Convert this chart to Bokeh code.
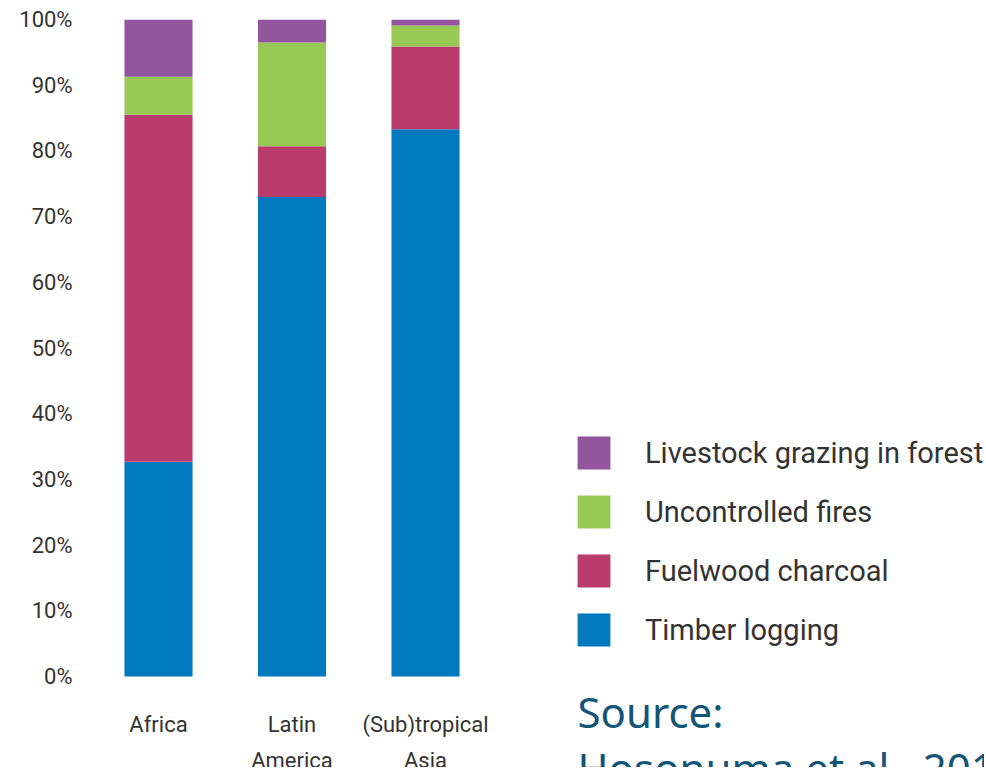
from bokeh.plotting import figure
from bokeh.models import (ColumnDataSource, FixedTicker, Legend, LegendItem, Label,
                          Range1d, PrintfTickFormatter)
from bokeh.core.properties import value
from bokeh.embed import file_html
from bokeh.resources import INLINE

# ---- data (percent share of degradation drivers) ----
regions = ["Africa", "Latin\nAmerica", "(Sub)tropical\nAsia"]
positions = [1, 2, 3]
timber = [32.7, 73.0, 83.3]
fuelwood = [52.8, 7.7, 12.6]
fires = [5.8, 15.8, 3.2]
livestock = [8.7, 3.5, 0.9]
series_keys = ["timber", "fuelwood", "fires", "livestock"]
series_labels = ["Timber logging", "Fuelwood charcoal", "Uncontrolled fires",
                 "Livestock grazing in forest"]
colors = ["#0079BF", "#B93A6B", "#97C954", "#93559E"]
y_ticks = [0, 10, 20, 30, 40, 50, 60, 70, 80, 90, 100]
baseline = [0, 0, 0]

source = ColumnDataSource(dict(x=positions, timber=timber, fuelwood=fuelwood,
                               fires=fires, livestock=livestock))
label_src = ColumnDataSource(dict(x=positions, y=baseline, text=regions))

FONT = "Roboto"
TXT = "#333333"
SRC_COLOR = "#135576"

p = figure(width=984, height=767, output_backend="svg", toolbar_location=None,
           x_range=Range1d(0.4157, 7.187), y_range=Range1d(-13.85, 100),
           min_border_left=80, min_border_top=19, min_border_bottom=0,
           min_border_right=0)
p.outline_line_color = None
p.xgrid.visible = False
p.ygrid.visible = False
p.xaxis.visible = False

renderers = p.vbar_stack(series_keys, x="x", width=0.51, color=colors,
                         line_color=None, source=source)

ax = p.yaxis[0]
ax.axis_line_color = None
ax.major_tick_line_color = None
ax.minor_tick_line_color = None
ax.major_tick_out = 0
ax.major_tick_in = 0
ax.minor_tick_out = 0
ax.major_label_text_font = FONT
ax.major_label_text_font_size = "22px"
ax.major_label_text_color = TXT
ax.ticker = FixedTicker(ticks=y_ticks)
ax.formatter = PrintfTickFormatter(format="%d%%")
ax.major_label_standoff = 8

# category labels under the bars
p.text(x="x", y="y", text="text", source=label_src, y_offset=35,
       text_align="center", text_baseline="top", text_font=value(FONT),
       text_font_size="22px", text_color=TXT, text_line_height=1.45)

items = [LegendItem(label=lab, renderers=[r])
         for lab, r in zip(series_labels, renderers)][::-1]
legend = Legend(items=items, location=(493, 117), orientation="vertical",
                glyph_width=41, glyph_height=41, spacing=18, label_standoff=31,
                label_text_font=FONT, label_text_font_size="29px",
                label_text_color=TXT, padding=0, margin=0,
                border_line_color=None, background_fill_alpha=0)
p.add_layout(legend)

p.add_layout(Label(x=497, y=56, x_units="screen", y_units="screen",
                   text="Source:", text_font="Noto Sans", text_font_size="42px",
                   text_color=SRC_COLOR, text_baseline="alphabetic"))
p.add_layout(Label(x=497, y=0, x_units="screen", y_units="screen",
                   text="Hosonuma et al., 2012", text_font="Noto Sans",
                   text_font_size="42px", text_color=SRC_COLOR,
                   text_baseline="alphabetic"))

open("out.html", "w").write(file_html(p, INLINE))
